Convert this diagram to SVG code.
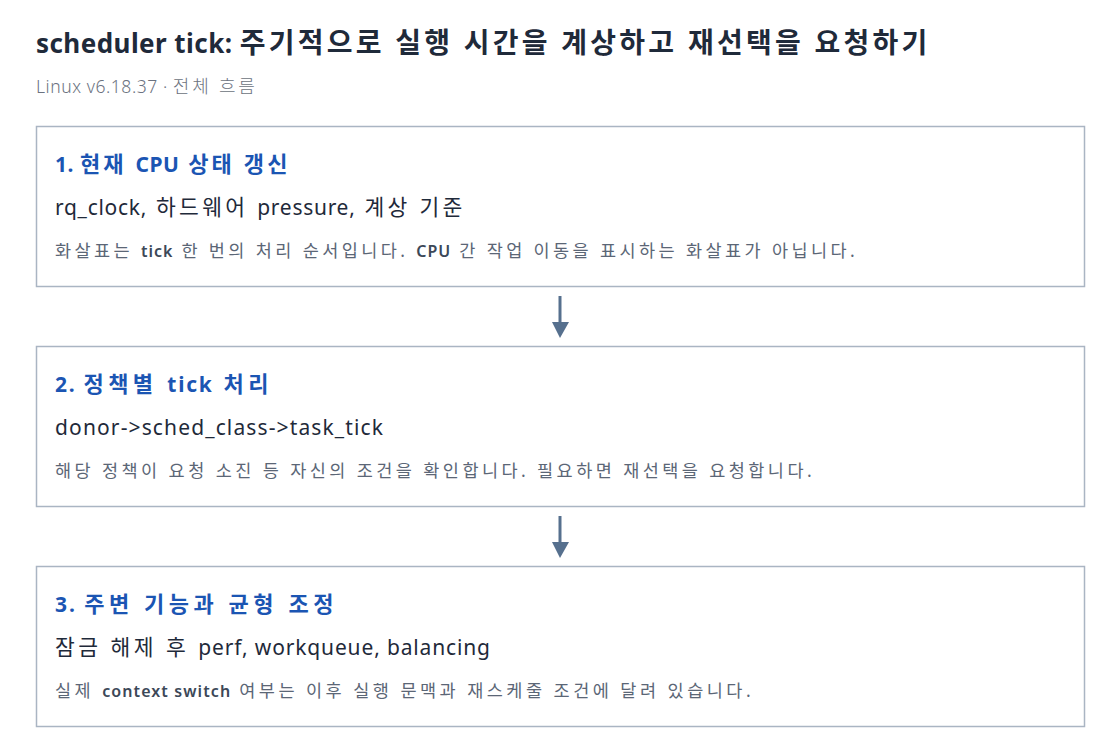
<svg xmlns="http://www.w3.org/2000/svg" width="1120" height="754" viewBox="0 0 1120 754">
<style>
text{font-family:"Noto Sans","Noto Sans CJK KR",sans-serif}
.title{font-size:26px;font-weight:700;fill:#1f2a3a}
.title .k{font-size:28px;letter-spacing:2.8px}
.sub{font-size:17.5px;fill:#6b7280;font-weight:300}
.sub .k{font-size:18px;letter-spacing:2.2px}
.box{fill:#ffffff;stroke:#aab5c3;stroke-width:1.5}
.head{font-size:21px;font-weight:700;fill:#1b55b3}
.head .k{font-size:22px;letter-spacing:2.6px}
.code{font-size:21px;fill:#1f2a3a}
.code .k{font-size:21.5px;letter-spacing:2.6px}
.note{font-size:16px;font-weight:600;fill:#3c4858}
.note .k{font-size:17.5px;font-weight:400;fill:#5b6676;letter-spacing:2.4px}
.conn{stroke:#56708e;stroke-width:3;fill:none}
.ah{fill:#56708e}
</style>
<rect width="1120" height="754" fill="#ffffff"/>
<text class="title" x="36" y="53" textLength="894" lengthAdjust="spacing">scheduler tick: <tspan class="k">주기적으로 실행 시간을 계상하고 재선택을 요청하기</tspan></text>
<text class="sub" x="36" y="93" textLength="221" lengthAdjust="spacing">Linux v6.18.37 · <tspan class="k">전체 흐름</tspan></text>
<g id="connectors">
<line class="conn" x1="560" y1="296" x2="560" y2="324"/>
<polygon class="ah" points="552,322 569,322 560,338"/>
<line class="conn" x1="560" y1="516" x2="560" y2="544"/>
<polygon class="ah" points="552,542 569,542 560,558"/>
</g>
<g id="node1">
<rect class="box" x="36.5" y="126.5" width="1048" height="160"/>
<text class="head" x="55" y="172" textLength="235" lengthAdjust="spacing">1. <tspan class="k">현재 </tspan>CPU<tspan class="k"> 상태 갱신</tspan></text>
<text class="code" x="55" y="215" textLength="410" lengthAdjust="spacing">rq_clock,<tspan class="k"> 하드웨어 </tspan>pressure,<tspan class="k"> 계상 기준</tspan></text>
<text class="note" x="55" y="257" textLength="802" lengthAdjust="spacing"><tspan class="k">화살표는 </tspan>tick<tspan class="k"> 한 번의 처리 순서입니다. </tspan>CPU<tspan class="k"> 간 작업 이동을 표시하는 화살표가 아닙니다.</tspan></text>
</g>
<g id="node2">
<rect class="box" x="36.5" y="346.5" width="1048" height="160"/>
<text class="head" x="55" y="392" textLength="216" lengthAdjust="spacing">2. <tspan class="k">정책별 </tspan>tick<tspan class="k"> 처리</tspan></text>
<text class="code" x="55" y="435" textLength="328" lengthAdjust="spacing">donor-&gt;sched_class-&gt;task_tick</text>
<text class="note" x="55" y="477" textLength="759" lengthAdjust="spacing"><tspan class="k">해당 정책이 요청 소진 등 자신의 조건을 확인합니다. 필요하면 재선택을 요청합니다.</tspan></text>
</g>
<g id="node3">
<rect class="box" x="36.5" y="566.5" width="1048" height="160"/>
<text class="head" x="55" y="612" textLength="281" lengthAdjust="spacing">3. <tspan class="k">주변 기능과 균형 조정</tspan></text>
<text class="code" x="55" y="655" textLength="435" lengthAdjust="spacing"><tspan class="k">잠금 해제 후 </tspan>perf, workqueue, balancing</text>
<text class="note" x="55" y="697" textLength="698" lengthAdjust="spacing"><tspan class="k">실제 </tspan>context switch<tspan class="k"> 여부는 이후 실행 문맥과 재스케줄 조건에 달려 있습니다.</tspan></text>
</g>
</svg>
